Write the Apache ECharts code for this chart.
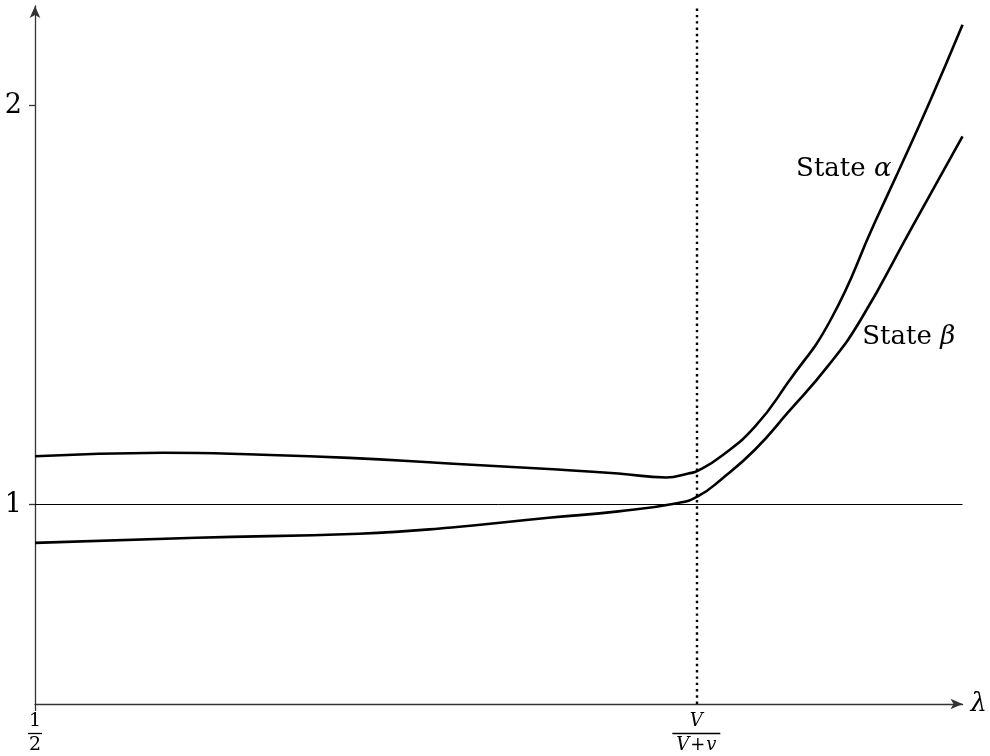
<!DOCTYPE html>
<html><head><meta charset="utf-8">
<script src="https://cdn.jsdelivr.net/npm/echarts@6/dist/echarts.min.js"></script>
<style>html,body{margin:0;padding:0;background:#fff}#c{width:990px;height:756px}</style>
</head><body><div id="c"></div>
<script>
// λ values (x) and energies (y)
const alphaX = [0.5, 0.5688, 0.6226, 0.6694, 0.7231, 0.7769, 0.8145, 0.8403, 0.8522, 0.8575, 0.8699, 0.8882, 0.9059, 0.9290, 0.9527, 0.9651, 0.9828, 1.0];
const alphaY = [1.121, 1.130, 1.125, 1.117, 1.103, 1.089, 1.078, 1.068, 1.078, 1.085, 1.121, 1.196, 1.306, 1.464, 1.707, 1.832, 2.015, 2.203];
const betaX  = [0.5, 0.5871, 0.6747, 0.7231, 0.7769, 0.8145, 0.8468, 0.8575, 0.8699, 0.8882, 0.9059, 0.9274, 0.9452, 0.9720, 1.0];
const betaY  = [0.904, 0.917, 0.927, 0.942, 0.967, 0.983, 1.004, 1.021, 1.063, 1.138, 1.231, 1.347, 1.464, 1.689, 1.923];
const xHalf = 0.5;          // λ = 1/2
const xCrit = 0.8565;       // λ = V/(V+v)
const yTicks = [1, 2];
const xTickLabels = ['1/2', 'V/(V+v)'];
const seriesNames = ['State α', 'State β'];

const SERIF = "'DejaVu Serif', 'Liberation Serif', serif";
const toPairs = (xs, ys) => xs.map((x, i) => [x, ys[i]]);

const chart = echarts.init(document.getElementById('c'), null, {renderer: 'canvas'});
const axisLineStyle = {color: '#333', width: 1.3};

chart.setOption({
  animation: false,
  backgroundColor: '#fff',
  grid: {left: 35, right: 25, top: 6, bottom: 52, containLabel: false},
  xAxis: {
    type: 'value', min: 0.5, max: 1.0,
    splitLine: {show: false},
    axisLine: {show: true, onZero: false, lineStyle: axisLineStyle,
      symbol: ['none', 'arrow'], symbolSize: [8, 12], symbolOffset: [0, 0]},
    axisTick: {show: true, customValues: [xHalf], length: 7, lineStyle: axisLineStyle},
    axisLabel: {
      show: true, customValues: [xHalf, xCrit], margin: 8,
      formatter: v => (Math.abs(v - xHalf) < 1e-9)
        ? '{n|1}\n{bar| }\n{n|2}'
        : '{ni|V}\n{barw| }\n{ni|V}{nr|+}{ni|v}',
      rich: {
        n: {fontFamily: SERIF, fontSize: 19, lineHeight: 19, color: '#000', align: 'center'},
        ni: {fontFamily: SERIF, fontStyle: 'italic', fontSize: 18, lineHeight: 19, color: '#000'},
        nr: {fontFamily: SERIF, fontSize: 18, lineHeight: 19, color: '#000', padding: [0, 1]},
        bar: {width: 14, height: 1.3, lineHeight: 5, fontSize: 1, backgroundColor: '#000'},
        barw: {width: 48, height: 1.3, lineHeight: 5, fontSize: 1, backgroundColor: '#000'}
      }
    },
    name: 'λ', nameLocation: 'end', nameGap: 8,
    nameTextStyle: {fontFamily: SERIF, fontStyle: 'italic', fontSize: 26, color: '#000', verticalAlign: 'middle'}
  },
  yAxis: {
    type: 'value', min: 0.5, max: 2.25,
    splitLine: {show: false},
    axisLine: {show: true, onZero: false, lineStyle: axisLineStyle,
      symbol: ['none', 'arrow'], symbolSize: [8, 12], symbolOffset: [0, 0]},
    axisTick: {show: true, customValues: yTicks, length: 6, lineStyle: axisLineStyle},
    axisLabel: {show: true, customValues: yTicks, margin: 13,
      formatter: v => String(v),
      fontFamily: SERIF, fontSize: 27, color: '#000'}
  },
  series: [
    {
      name: seriesNames[0], type: 'line', data: toPairs(alphaX, alphaY),
      showSymbol: false, smooth: 0.5, clip: false,
      lineStyle: {color: '#000', width: 2.6},
      markLine: {
        silent: true, symbol: 'none', precision: 6, label: {show: false},
        data: [
          {yAxis: 1, lineStyle: {color: '#000', width: 1, type: 'solid'}},
          {xAxis: xCrit, lineStyle: {color: '#000', width: 2.4, type: [2.4, 3.9]}}
        ]
      },
      markPoint: {
        silent: true, symbol: 'circle', symbolSize: 1, itemStyle: {color: 'rgba(0,0,0,0)'},
        data: [{coord: [0.936, 1.84], value: seriesNames[0]}],
        label: {show: true, position: 'inside',
          formatter: '{r|State }{i|α}',
          rich: {
            r: {fontFamily: SERIF, fontSize: 26, color: '#000'},
            i: {fontFamily: SERIF, fontStyle: 'italic', fontSize: 26, color: '#000'}
          }}
      }
    },
    {
      name: seriesNames[1], type: 'line', data: toPairs(betaX, betaY),
      showSymbol: false, smooth: 0.5, clip: false,
      lineStyle: {color: '#000', width: 2.6},
      markPoint: {
        silent: true, symbol: 'circle', symbolSize: 1, itemStyle: {color: 'rgba(0,0,0,0)'},
        data: [{coord: [0.971, 1.4185], value: seriesNames[1]}],
        label: {show: true, position: 'inside',
          formatter: '{r|State }{i|β}',
          rich: {
            r: {fontFamily: SERIF, fontSize: 26, color: '#000'},
            i: {fontFamily: SERIF, fontStyle: 'italic', fontSize: 26, color: '#000'}
          }}
      }
    }
  ]
});
</script>
</body></html>
